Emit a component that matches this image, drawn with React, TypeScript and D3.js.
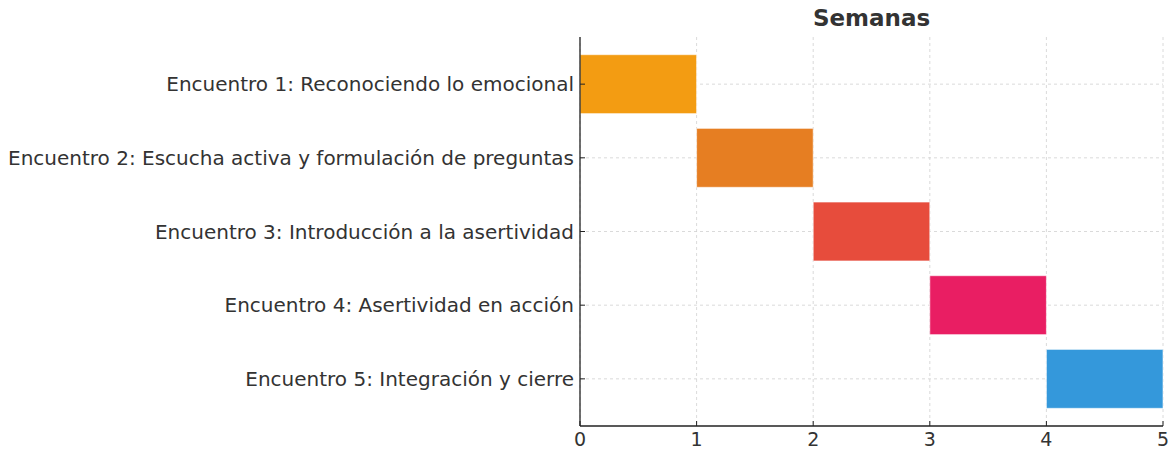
// Gantt chart of the encuentros across weeks
import { useEffect, useRef } from "react";
import * as d3 from "d3";

const tasks = [
  "Encuentro 1: Reconociendo lo emocional",
  "Encuentro 2: Escucha activa y formulación de preguntas",
  "Encuentro 3: Introducción a la asertividad",
  "Encuentro 4: Asertividad en acción",
  "Encuentro 5: Integración y cierre",
];
const starts = [0, 1, 2, 3, 4];
const durations = [1, 1, 1, 1, 1];
const colors = ["#f39c12", "#e67e22", "#e74c3c", "#e91e63", "#3498db"];
const xTicks = [0, 1, 2, 3, 4, 5];

export default function App() {
  const svgRef = useRef<SVGSVGElement>(null);
  const width = 1173;
  const height = 451;

  useEffect(() => {
    if (!svgRef.current) return;
    const svg = d3.select(svgRef.current);
    svg.selectAll("*").remove();

    const left = 580;
    const right = 1163;
    const top = 37;
    const bottom = 426;
    const font = "'DejaVu Sans', 'Noto Sans', sans-serif";

    const x = d3.scaleLinear().domain([0, 5]).range([left, right]);
    // categorical axis with 5% margins, inverted (first task on top)
    const y = d3.scaleLinear().domain([-0.64, 4.64]).range([top, bottom]);
    const step = y(1) - y(0);

    const g = svg.append("g");

    // grid
    g.selectAll(".vgrid")
      .data(xTicks)
      .enter()
      .append("line")
      .attr("x1", (d) => x(d))
      .attr("x2", (d) => x(d))
      .attr("y1", top)
      .attr("y2", bottom)
      .attr("stroke", "#d0d0d0")
      .attr("stroke-width", 0.8)
      .attr("stroke-dasharray", "3,3");

    g.selectAll(".hgrid")
      .data(tasks)
      .enter()
      .append("line")
      .attr("x1", left)
      .attr("x2", right)
      .attr("y1", (d, i) => y(i))
      .attr("y2", (d, i) => y(i))
      .attr("stroke", "#d0d0d0")
      .attr("stroke-width", 0.8)
      .attr("stroke-dasharray", "3,3");

    // bars
    g.selectAll(".bar")
      .data(tasks)
      .enter()
      .append("rect")
      .attr("x", (d, i) => x(starts[i]))
      .attr("width", (d, i) => x(starts[i] + durations[i]) - x(starts[i]))
      .attr("y", (d, i) => y(i) - step * 0.4)
      .attr("height", step * 0.8)
      .attr("fill", (d, i) => colors[i])
      .attr("stroke", "#ffffff")
      .attr("stroke-opacity", 0.6)
      .attr("stroke-width", 1);

    // spines
    g.append("line")
      .attr("x1", left)
      .attr("x2", left)
      .attr("y1", top)
      .attr("y2", bottom)
      .attr("stroke", "#222")
      .attr("stroke-width", 1.3);
    g.append("line")
      .attr("x1", left)
      .attr("x2", right)
      .attr("y1", bottom)
      .attr("y2", bottom)
      .attr("stroke", "#222")
      .attr("stroke-width", 1.3);

    // x ticks (inward) + labels
    g.selectAll(".xtick")
      .data(xTicks)
      .enter()
      .append("line")
      .attr("x1", (d) => x(d))
      .attr("x2", (d) => x(d))
      .attr("y1", bottom)
      .attr("y2", bottom - 5)
      .attr("stroke", "#222")
      .attr("stroke-width", 1);
    g.selectAll(".xlabel")
      .data(xTicks)
      .enter()
      .append("text")
      .attr("x", (d) => x(d))
      .attr("y", bottom + 20)
      .attr("text-anchor", "middle")
      .attr("fill", "#333")
      .style("font-family", font)
      .style("font-size", "19px")
      .text((d) => d);

    // y ticks + labels
    g.selectAll(".ytick")
      .data(tasks)
      .enter()
      .append("line")
      .attr("x1", left)
      .attr("x2", left + 5)
      .attr("y1", (d, i) => y(i))
      .attr("y2", (d, i) => y(i))
      .attr("stroke", "#222")
      .attr("stroke-width", 1);
    g.selectAll(".ylabel")
      .data(tasks)
      .enter()
      .append("text")
      .attr("x", left - 6)
      .attr("y", (d, i) => y(i))
      .attr("dy", "0.35em")
      .attr("text-anchor", "end")
      .attr("fill", "#333")
      .style("font-family", font)
      .style("font-size", "20px")
      .text((d) => d);

    // title
    g.append("text")
      .attr("x", (left + right) / 2)
      .attr("y", 26)
      .attr("text-anchor", "middle")
      .attr("fill", "#333")
      .style("font-family", font)
      .style("font-size", "23px")
      .style("font-weight", "bold")
      .text("Semanas");
  }, []);

  return (
    <svg
      ref={svgRef}
      width={width}
      height={height}
      style={{ display: "block", position: "absolute", left: 0, top: 0, background: "#fff" }}
    />
  );
}
